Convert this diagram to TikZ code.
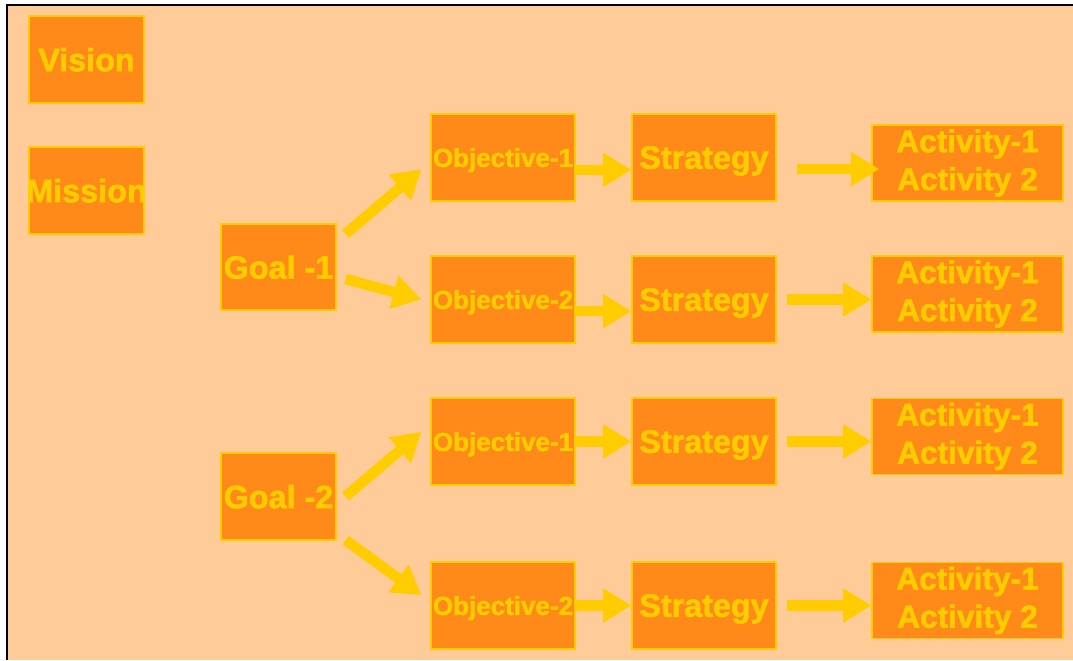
\documentclass[tikz,border=0pt]{standalone}
\usepackage{fontspec}
\setmainfont{Liberation Sans}[BoldFeatures={FakeBold=1.6}]
\usetikzlibrary{arrows.meta}

\definecolor{peach}{HTML}{FFCC99}
\definecolor{boxorange}{HTML}{FF8A19}
\definecolor{gold}{HTML}{FFCC00}

\tikzset{
  plan/.style={draw=gold, fill=boxorange, text=gold, line width=0.8pt, inner sep=0pt,
    font=\bfseries\fontsize{23}{27}\selectfont},
  smallbox/.style={plan, text depth=0pt, minimum width=2.875cm, minimum height=2.175cm},
  widebox/.style={plan, text depth=0pt, minimum width=3.6cm, minimum height=2.175cm},
  actbox/.style={plan, minimum width=4.775cm, minimum height=1.9cm, align=center,
    font=\bfseries\fontsize{22.5}{27}\selectfont},
  fat/.style={gold, line width=7.5pt, -{Triangle[length=7.1mm, width=8.1mm]}},
}

\begin{document}
\begin{tikzpicture}
    \useasboundingbox (0,0) rectangle (26.825,16.5);
    \fill[peach] (0.175,0) rectangle (26.825,16.375);
    \draw[line width=1.8pt] (0.175,0) -- (0.175,16.375) -- (26.825,16.375);

    \node[smallbox] (vision) at (2.1625,15.0125) {Vision};
    \node[smallbox] (mission) at (2.1625,11.7375) {\makebox[0pt]{Mission}};
    \node[smallbox, minimum height=2.15cm] (g1) at (6.9625,9.825) {Goal -1};
    \node[smallbox] (g2) at (6.9625,4.0875) {Goal -2};

    % one row per objective: objective -> strategy -> activities
    \foreach \i/\k/\y/\ya/\oy/\sx/\sy/\ax in {1/1/12.5625/12.425/-0.31/0.5/-0.29/0.2,
                                            2/2/9.0125/9.15/-0.29/0.25/0/0,
                                            3/1/5.4625/5.5875/0/0.25/0/0,
                                            4/2/1.3625/1.4875/0/0.25/0/0} {
        \node[widebox, font=\bfseries\fontsize{18.5}{22}\selectfont] (o\i) at (12.575,\y) {Objective-\k};
        \node[widebox] (s\i) at (17.6,\y) {Strategy};
        \node[actbox] (a\i) at (24.1875,\ya) {Activity-1\\Activity 2};
        \draw[fat] ([yshift=\oy cm]o\i.east) -- ([yshift=\oy cm]s\i.west);
        \draw[fat] ([xshift=\sx cm, yshift=\sy cm]s\i.east)
            -- ([xshift=\ax cm, yshift=\sy cm]s\i.east -| a\i.west);
    }

    % goals to their objectives
    \draw[fat] ([xshift=0.225cm, yshift=0.825cm]g1.east) -- ([xshift=-0.225cm, yshift=-0.29cm]o1.west);
    \draw[fat] ([xshift=0.225cm, yshift=-0.3cm]g1.east) -- ([xshift=-0.225cm]o2.west);
    \draw[fat] ([xshift=0.225cm]g2.east) -- ([xshift=-0.225cm, yshift=0.24cm]o3.west);
    \draw[fat] ([xshift=0.225cm, yshift=-1.09cm]g2.east) -- ([xshift=-0.225cm, yshift=0.26cm]o4.west);
\end{tikzpicture}
\end{document}
